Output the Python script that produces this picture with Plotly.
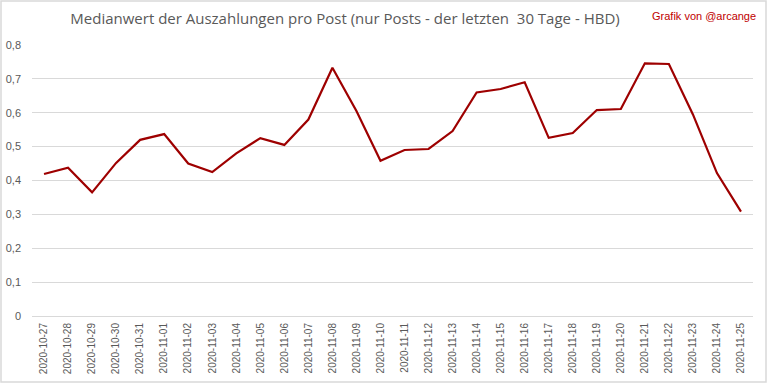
import plotly.graph_objects as go

dates = ["2020-10-27","2020-10-28","2020-10-29","2020-10-30","2020-10-31","2020-11-01",
         "2020-11-02","2020-11-03","2020-11-04","2020-11-05","2020-11-06","2020-11-07",
         "2020-11-08","2020-11-09","2020-11-10","2020-11-11","2020-11-12","2020-11-13",
         "2020-11-14","2020-11-15","2020-11-16","2020-11-17","2020-11-18","2020-11-19",
         "2020-11-20","2020-11-21","2020-11-22","2020-11-23","2020-11-24","2020-11-25"]
median_hbd = [0.419, 0.438, 0.365, 0.452, 0.520, 0.537, 0.450, 0.425, 0.480, 0.525,
              0.505, 0.580, 0.733, 0.605, 0.458, 0.490, 0.493, 0.546, 0.660, 0.670,
              0.690, 0.526, 0.540, 0.608, 0.611, 0.746, 0.744, 0.595, 0.422, 0.308]
y_tickvals = [0, 0.1, 0.2, 0.3, 0.4, 0.5, 0.6, 0.7, 0.8]
y_ticktext = ["0", "0,1", "0,2", "0,3", "0,4", "0,5", "0,6", "0,7", "0,8"]

W, H = 768, 384
ml, mr, mt, mb = 32, 15, 45, 68
pw, ph = W - ml - mr, H - mt - mb

def px_x(x):
    return (x - ml) / pw

def px_y(y):
    return (H - mb - y) / ph

fig = go.Figure()
fig.add_trace(go.Scatter(
    x=dates, y=median_hbd, mode="lines",
    line=dict(color="#9e0000", width=2.2),
    hoverinfo="x+y", showlegend=False,
))

fig.update_layout(
    width=W, height=H,
    margin=dict(l=ml, r=mr, t=mt, b=mb, autoexpand=False),
    paper_bgcolor="white", plot_bgcolor="white",
    font=dict(family="Liberation Sans", color="#595959"),
    title=dict(
        text="Medianwert der Auszahlungen pro Post (nur Posts - der letzten  30 Tage - HBD)",
        x=px_x(345), xref="paper", xanchor="center", y=1 - 19 / H, yanchor="middle",
        font=dict(size=15, color="#595959", family="Open Sans, Liberation Sans"),
    ),
    xaxis=dict(
        type="category", range=[-0.5, len(dates) - 0.5], automargin=False,
        tickangle=-90, tickfont=dict(size=10, color="#595959", family="Liberation Sans"),
        showgrid=False, showline=False, ticks="", zeroline=False,
        ticklabelstandoff=4,
    ),
    yaxis=dict(
        range=[0, 0.8], tickvals=y_tickvals, ticktext=y_ticktext, automargin=False,
        tickfont=dict(size=11, color="#595959", family="Liberation Sans"),
        showgrid=True, gridcolor="#d9d9d9", gridwidth=1,
        zeroline=True, zerolinecolor="#d9d9d9", zerolinewidth=1,
        showline=False, ticks="", ticklabelstandoff=10,
    ),
    annotations=[dict(
        text="Grafik von @arcange", xref="paper", yref="paper",
        x=px_x(758), y=px_y(16), xanchor="right", yanchor="middle",
        showarrow=False, font=dict(size=11, color="#c00000", family="Liberation Sans"),
    )],
    shapes=[dict(
        type="rect", xref="paper", yref="paper",
        x0=px_x(1), x1=px_x(W - 2),
        y0=px_y(H - 2), y1=px_y(1),
        line=dict(color="#d9d9d9", width=1.5), fillcolor="rgba(0,0,0,0)", layer="below",
    )],
)

fig.write_html(
    "out.html",
    config={"displayModeBar": False},
    post_script="document.body.style.margin='0';document.body.style.overflow='hidden';",
)
